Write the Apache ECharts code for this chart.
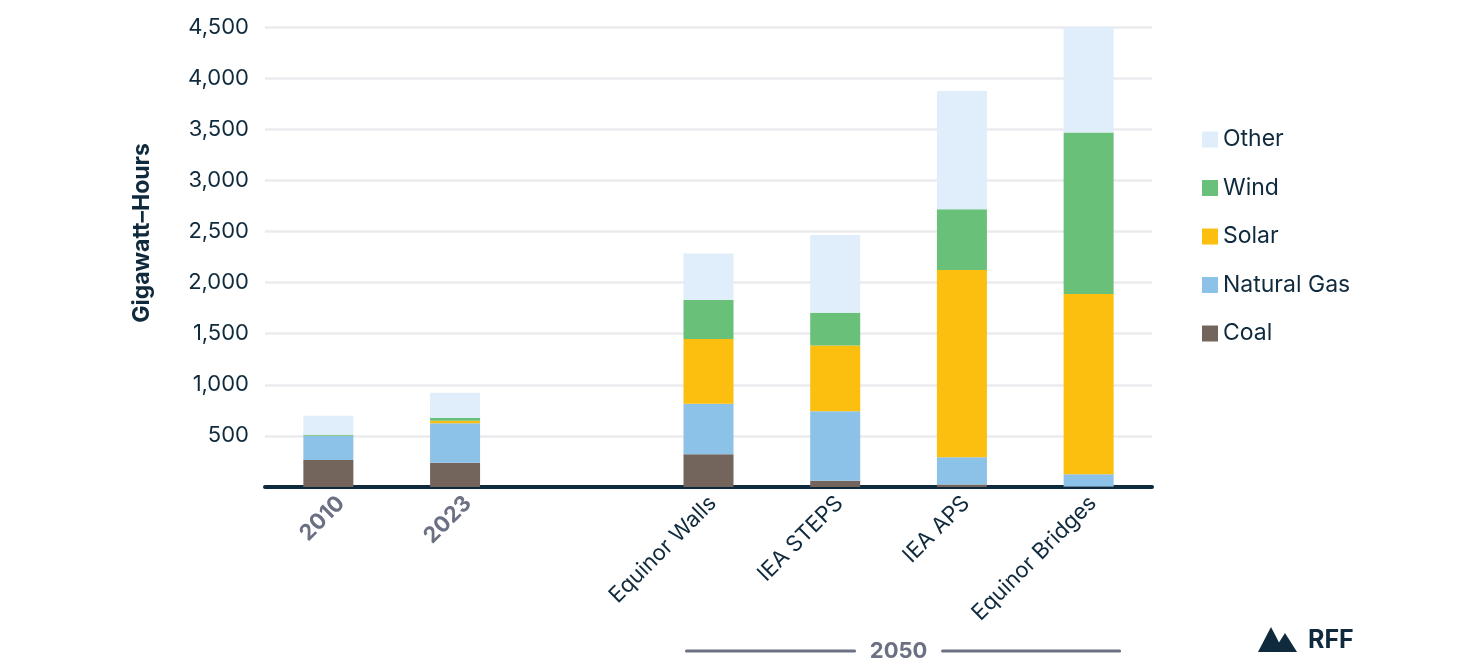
<!DOCTYPE html>
<html lang="en">
<head>
    <meta charset="UTF-8" />
    <title>Electricity generation by source</title>
    <script src="https://cdn.jsdelivr.net/npm/echarts@6/dist/echarts.min.js"></script>
    <style>
        html, body { margin: 0; padding: 0; background: #fff; }
        #chart { width: 1480px; height: 664px; }
    </style>
</head>
<body>
    <div id="chart"></div>
    <script>
        // data (GWh)
        const categories = ["2010", "2023", "", "Equinor Walls", "IEA STEPS", "IEA APS", "Equinor Bridges"];
        const historic = ["2010", "2023"];
        const coal = [264, 238, "-", 320, 62, 25, 4];
        const naturalGas = [235, 385, "-", 495, 680, 265, 120];
        const solar = [3, 25, "-", 632, 643, 1832, 1764];
        const wind = [8, 27, "-", 382, 319, 594, 1581];
        const other = [187, 247, "-", 456, 760, 1157, 1031];
        const yTicks = [0, 500, 1000, 1500, 2000, 2500, 3000, 3500, 4000, 4500];
        const groupLabel = "2050";

        const navy = "#0f2a3d";
        const grey = "#6b7082";
        const font = "Inter";

        let chart = echarts.init(document.getElementById("chart"));

        function bar(name, data, color) {
            return {
                name: name,
                type: "bar",
                stack: "total",
                data: data,
                barWidth: 50,
                itemStyle: { color: color },
            };
        }

        let option = {
            animation: false,
            textStyle: { fontFamily: font },
            grid: { left: 265, right: 328, top: 27, bottom: 177 },
            legend: {
                orient: "vertical",
                left: 1197,
                top: 123,
                itemWidth: 16,
                itemHeight: 16,
                itemGap: 25.5,
                icon: "rect",
                textStyle: { fontSize: 23, color: navy, fontFamily: font },
                data: ["Other", "Wind", "Solar", "Natural Gas", "Coal"],
            },
            xAxis: {
                type: "category",
                data: categories,
                axisLine: { lineStyle: { color: navy, width: 4, cap: "round" } },
                axisTick: { show: false },
                axisLabel: {
                    interval: 0,
                    rotate: 45,
                    margin: 0,
                    formatter: function (v) {
                        return historic.includes(v) ? "{h|" + v + "}" : "{s|" + v + "}";
                    },
                    // the years sit a little further along than the scenario names
                    rich: {
                        h: { fontSize: 22, fontWeight: "bold", color: grey, fontFamily: font,
                             verticalAlign: "top", padding: [36, 0, 0, 0] },
                        s: { fontSize: 22, color: navy, fontFamily: font,
                             verticalAlign: "top", padding: [24, 6, 0, 0] },
                    },
                },
            },
            yAxis: {
                type: "value",
                min: 0,
                max: yTicks[yTicks.length - 1],
                interval: 500,
                name: "Gigawatt–Hours",
                nameLocation: "middle",
                nameGap: 111,
                nameTextStyle: { fontSize: 23, fontWeight: "bold", color: navy, fontFamily: font,
                                 padding: [0, 0, 0, 48] },
                axisLine: { show: false },
                axisTick: { show: false },
                axisLabel: {
                    fontSize: 22,
                    color: navy,
                    margin: 16,
                    formatter: function (v) {
                        return v === 0 ? "" : v.toLocaleString("en-US");
                    },
                },
                splitLine: { lineStyle: { color: "#ebebef", width: 2.5 } },
            },
            series: [
                bar("Coal", coal, "#73655c"),
                bar("Natural Gas", naturalGas, "#8cc1e8"),
                bar("Solar", solar, "#fcbf10"),
                bar("Wind", wind, "#69c079"),
                bar("Other", other, "#dfeefa"),
            ],
        };

        chart.setOption(option);

        // "2050" bracket under the scenario categories, placed from the axis scale
        let first = chart.convertToPixel({ xAxisIndex: 0 }, categories[3]);
        let last = chart.convertToPixel({ xAxisIndex: 0 }, categories[6]);
        let mid = (first + last) / 2;
        let yb = 651;
        chart.setOption({
            graphic: [
                { type: "line", shape: { x1: first - 22, y1: yb, x2: mid - 44, y2: yb },
                  style: { stroke: grey, lineWidth: 3, lineCap: "round" } },
                { type: "line", shape: { x1: mid + 44, y1: yb, x2: last + 31, y2: yb },
                  style: { stroke: grey, lineWidth: 3, lineCap: "round" } },
                { type: "text", x: mid, y: yb, style: { text: groupLabel, x: 0, y: 0, align: "center", verticalAlign: "middle",
                  fill: grey, font: "bold 22px " + font } },
                // RFF logo
                { type: "polygon", shape: { points: [[1258, 652], [1271, 627], [1284, 652]] }, style: { fill: navy } },
                { type: "polygon", shape: { points: [[1273, 652], [1285, 633], [1297, 652]] }, style: { fill: navy } },
                { type: "text", x: 1308, y: 640, style: { text: "RFF", align: "left", verticalAlign: "middle",
                  fill: navy, font: "bold 25px " + font } },
            ],
        });
    </script>
</body>
</html>
